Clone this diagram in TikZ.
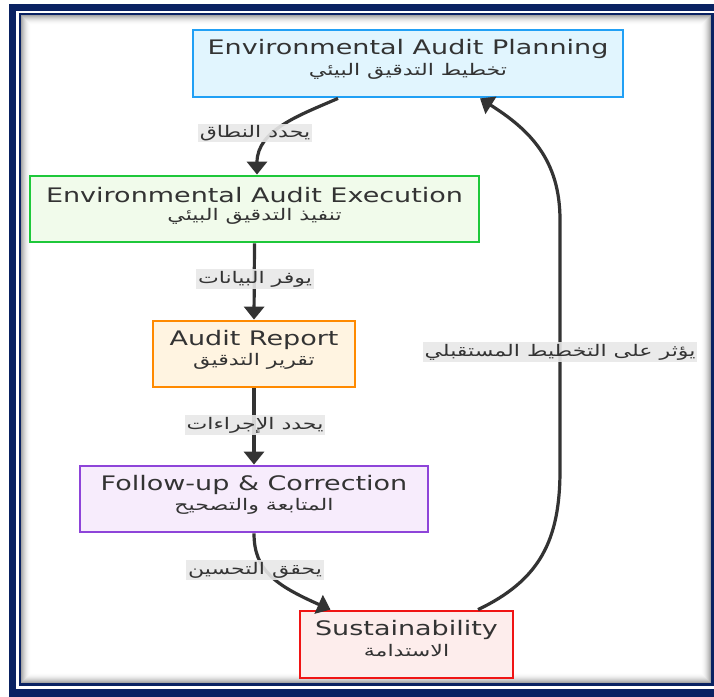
\documentclass[tikz,border=0pt]{standalone}
\usepackage{graphicx}
\usepackage{fontspec}
\setmainfont{DejaVu Sans}
\newfontfamily\arabicfont[Script=Arabic]{DejaVu Sans}
\TeXXeTstate=1
\usetikzlibrary{arrows.meta}
\definecolor{navy}{RGB}{10,34,98}
\definecolor{txt}{RGB}{51,51,51}
\definecolor{edgec}{RGB}{51,51,51}
\definecolor{lblbg}{RGB}{232,232,232}
\definecolor{planfill}{RGB}{225,245,254}
\definecolor{plandraw}{RGB}{33,160,245}
\definecolor{execfill}{RGB}{241,251,235}
\definecolor{execdraw}{RGB}{30,200,58}
\definecolor{repfill}{RGB}{255,244,225}
\definecolor{repdraw}{RGB}{255,138,0}
\definecolor{folfill}{RGB}{247,236,252}
\definecolor{foldraw}{RGB}{142,68,217}
\definecolor{susfill}{RGB}{253,237,236}
\definecolor{susdraw}{RGB}{240,20,20}
\newcommand{\wide}[1]{\scalebox{1.35}[1]{#1}}
\newcommand{\arw}[1]{\scalebox{1.38}[1]{\arabicfont\beginR #1\endR}}
\tikzset{
  box/.style={draw, line width=2.8pt, inner sep=0pt},
  entext/.style={font=\fontsize{20}{22}\selectfont, text=txt, inner sep=0pt},
  artext/.style={font=\arabicfont\fontsize{16}{18}\selectfont, text=txt, inner sep=0pt},
  lbl/.style={fill=lblbg, fill opacity=0.9, text opacity=1, text=txt, font=\arabicfont\fontsize{16}{18}\selectfont, inner xsep=2pt, inner ysep=1.5pt},
  edge/.style={draw=edgec, line width=3.2pt, -{Triangle[length=13pt,width=20pt]}}
}
\begin{document}
\begin{tikzpicture}[x=1pt,y=-1pt]
\useasboundingbox (0,0) rectangle (714,696);
% frame
\fill[navy] (9,4) rectangle (740,700);
\fill[white] (16,11) rectangle (740,689);
\fill[navy] (19,13) rectangle (714,686);
\fill[white] (21,15) rectangle (711,683);
\foreach \i in {0,...,9}{
  \pgfmathsetmacro{\op}{0.35*(1-\i/10)^2}
  \draw[black, opacity=\op, line width=1pt] (21.5+\i,15.5+\i) rectangle (710.5-\i,682.5-\i);
}
% nodes
\node[box, draw=plandraw, fill=planfill, minimum width=430pt, minimum height=67pt] (plan) at (408,63.5) {};
\node[entext] (plan-en) at (408,49) {\wide{Environmental Audit Planning}};
\node[artext] (plan-ar) at (408,71) {\arw{تخطيط التدقيق البيئي}};

\node[box, draw=execdraw, fill=execfill, minimum width=449pt, minimum height=66pt] (exec) at (254.5,209) {};
\node[entext] (exec-en) at (254.5,195) {\wide{Environmental Audit Execution}};
\node[artext] (exec-ar) at (254.5,216) {\arw{تنفيذ التدقيق البيئي}};

\node[box, draw=repdraw, fill=repfill, minimum width=202pt, minimum height=66pt] (rep) at (254,354) {};
\node[entext] (rep-en) at (254,340) {\wide{Audit Report}};
\node[artext] (rep-ar) at (254,361) {\arw{تقرير التدقيق}};

\node[box, draw=foldraw, fill=folfill, minimum width=348pt, minimum height=66pt] (fol) at (254,499) {};
\node[entext] (fol-en) at (254,485) {\wide{Follow-up \& Correction}};
\node[artext] (fol-ar) at (254,506) {\arw{المتابعة والتصحيح}};

\node[box, draw=susdraw, fill=susfill, minimum width=213pt, minimum height=67pt] (sus) at (406.5,644.5) {};
\node[entext] (sus-en) at (406.5,630) {\wide{Sustainability}};
\node[artext] (sus-ar) at (406.5,651) {\arw{الاستدامة}};

% edges
\draw[edge] ([xshift=-70pt]plan.south) .. controls (300,115) and (257,130) .. ([xshift=2.5pt]exec.north);
\draw[edge] (exec.south) -- (rep.north);
\draw[edge] (rep.south) -- (fol.north);
\draw[edge] (fol.south) .. controls (254,570) and (275,585) .. ([xshift=-76pt]sus.north);
\coordinate (r1) at (560,470);
\coordinate (r2) at (560,220);
\draw[edge] ([xshift=71.5pt]sus.north) .. controls (540,580) and (560,540) .. (r1) -- (r2) .. controls (560,160) and (530,130) .. ([xshift=72pt]plan.south);

% labels
\node[lbl] (l1) at (255,133) {\arw{يحدد النطاق}};
\node[lbl] (l2) at (255,279) {\arw{يوفر البيانات}};
\node[lbl] (l3) at (255,425) {\arw{يحدد الإجراءات}};
\node[lbl] (l4) at (255,570) {\arw{يحقق التحسين}};
\node[lbl] (l5) at (560,352) {\arw{يؤثر على التخطيط المستقبلي}};
\end{tikzpicture}
\end{document}
